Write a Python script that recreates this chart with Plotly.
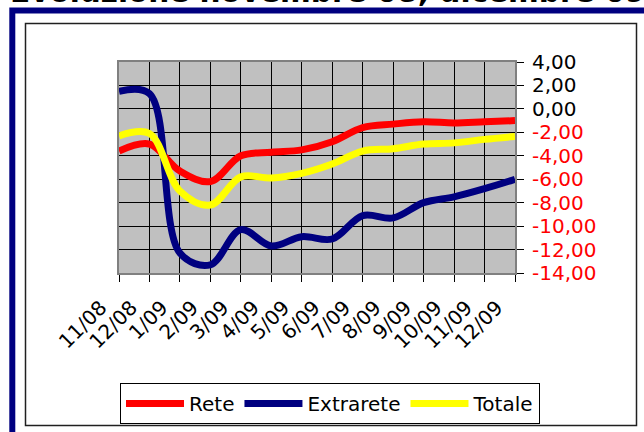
import plotly.graph_objects as go

categories = ["11/08", "12/08", "1/09", "2/09", "3/09", "4/09", "5/09",
              "6/09", "7/09", "8/09", "9/09", "10/09", "11/09", "12/09"]
rete = [-3.6, -3.0, -5.3, -6.2, -4.0, -3.7, -3.5, -2.8, -1.6, -1.3, -1.1, -1.2, -1.1, -1.0]
extrarete = [1.5, 1.3, -12.3, -13.3, -10.3, -11.7, -10.9, -11.1, -9.1, -9.3, -8.0, -7.5, -6.8, -6.0]
totale = [-2.3, -2.1, -7.0, -8.2, -5.8, -5.9, -5.5, -4.7, -3.6, -3.4, -3.0, -2.9, -2.6, -2.35]
ytick_vals = [4, 2, 0, -2, -4, -6, -8, -10, -12, -14]
ytick_text = ["4,00", "2,00", "0,00", "-2,00", "-4,00", "-6,00", "-8,00", "-10,00", "-12,00", "-14,00"]
title_text = "Evoluzione novembre 08, dicembre 09"

FONT = "DejaVu Sans"
ticktext = [t if v >= 0 else '<span style="color:#FF0000">' + t + '</span>'
            for v, t in zip(ytick_vals, ytick_text)]
xticktext = [c + "\u00a0" * 4 for c in categories]

fig = go.Figure()
for name, vals, col in [("Rete", rete, "#FF0000"),
                        ("Extrarete", extrarete, "#000080"),
                        ("Totale", totale, "#FFFF00")]:
    fig.add_trace(go.Scatter(x=categories, y=vals, name=name, mode="lines",
                             line=dict(color=col, width=7, shape="spline", smoothing=1.0)))

L, R, T, B = 119, 129, 62, 159
W, H = 644, 432
pw, ph = W - L - R, H - T - B

def px(x):
    return (x - L) / pw

def py(y):
    return 1 - (y - T) / ph

fig.update_layout(
    width=W, height=H,
    margin=dict(l=L, r=R, t=T, b=B, autoexpand=False),
    paper_bgcolor="white", plot_bgcolor="#C0C0C0",
    font=dict(family=FONT, size=20, color="black"),
    showlegend=True,
    legend=dict(orientation="h", x=px(540), y=py(383), xanchor="right", yanchor="top",
                bgcolor="white", bordercolor="black", borderwidth=1,
                font=dict(family=FONT, size=20), itemwidth=58,
                traceorder="normal"),
    xaxis=dict(type="category", categoryorder="array", categoryarray=categories,
               range=[0, len(categories) - 1], tickmode="array", tickvals=categories,
               ticktext=xticktext, tickangle=-45, showgrid=True, gridcolor="black",
               gridwidth=1, ticks="outside", ticklen=7, tickcolor="black",
               showline=True, linecolor="#808080", linewidth=2, mirror=True,
               tickfont=dict(family=FONT, size=20), zeroline=False,
               ticklabelstandoff=-12),
    yaxis=dict(side="right", range=[-14, 4], tickmode="array", tickvals=ytick_vals,
               ticktext=ticktext, showgrid=True, gridcolor="black", gridwidth=1,
               ticks="outside", ticklen=7, tickcolor="black", zeroline=False,
               showline=True, linecolor="#808080", linewidth=2, mirror=True,
               tickfont=dict(family=FONT, size=20), ticklabelstandoff=4),
    shapes=[
        dict(type="rect", xref="paper", yref="paper",
             x0=px(12.3), x1=px(660), y0=py(450), y1=py(10.5),
             line=dict(color="#000080", width=6), fillcolor="rgba(0,0,0,0)", layer="below"),
        dict(type="rect", xref="paper", yref="paper",
             x0=px(25.5), x1=px(636.5), y0=py(425.5), y1=py(23.5),
             line=dict(color="#202020", width=1.5), fillcolor="rgba(0,0,0,0)", layer="below"),
    ],
    annotations=[
        dict(text="<b>" + title_text + "</b>", xref="paper", yref="paper",
             x=px(8), y=py(11), xanchor="left", yanchor="bottom", showarrow=False,
             font=dict(family=FONT, size=29.5, color="black")),
    ],
)

fig.write_html("out.html", config={"displayModeBar": False},
               post_script="document.body.style.margin='0px';document.body.style.overflow='hidden';")
